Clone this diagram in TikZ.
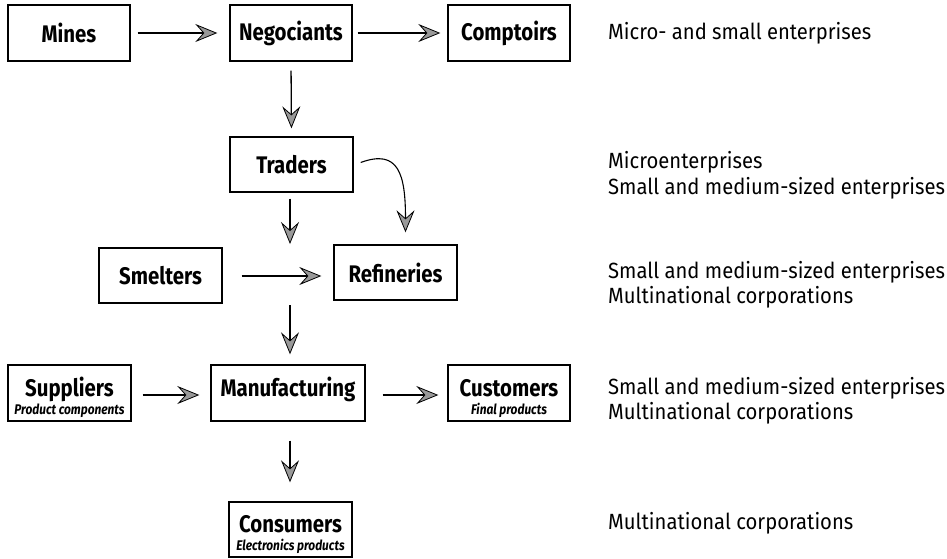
\documentclass[tikz,border=0pt]{standalone}
\usepackage{fontspec}
\setmainfont{Fira Sans}
\newfontfamily\boxfont[FakeStretch=0.85]{Fira Sans}
\newfontfamily\sidefont[FakeStretch=0.92]{Fira Sans}
\usetikzlibrary{arrows.meta}
\newcommand{\sub}[1]{{\fontsize{14}{16}\selectfont\bfseries\itshape #1}}
\newcommand{\toprow}{\rule{0pt}{28pt}}
\begin{document}
\begin{tikzpicture}[x=1pt,y=-1pt]

	%STYLES
	\tikzstyle{every node}=[inner sep=0pt]
	\tikzstyle{block} = [draw, align=center, line width=1.4pt, minimum width=122pt, minimum height=56pt, font=\boxfont\fontsize{24}{19}\selectfont\bfseries]
	\tikzstyle{side} = [anchor=west, align=left, font=\sidefont\fontsize{22}{25.5}\selectfont]
	\tikzstyle{pointer} = [-{Stealth[length=22pt, width=18pt, inset=8pt, fill=gray!80, line width=0.8pt]}, line width=1.3pt]

	\useasboundingbox (0,0) rectangle (947,558);

	%BOXES
	\draw(69,33) node[block](1){Mines};
	\draw(291,33) node[block](2){Negociants};
	\draw(509,33) node[block](3){Comptoirs};
	\draw(291.5,164.5) node[block, minimum width=123pt, minimum height=55pt](4){Traders};
	\draw(160.5,275.5) node[block, minimum width=123pt, minimum height=55pt](5){Smelters};
	\draw(395.5,272.5) node[block, minimum width=123pt, minimum height=55pt](6){Refineries};
	\draw(69.5,393) node[block, minimum width=123pt](7){\toprow Suppliers\\[-1pt]\sub{Product components}};
	\draw(288,393) node[block, minimum width=154pt](8){\toprow Manufacturing\\[-1pt]\sub{\phantom{Final products}}};
	\draw(509,393) node[block](9){\toprow Customers\\[-1pt]\sub{Final products}};
	\draw(290.5,529.5) node[block, minimum width=123pt, minimum height=55pt](10){\toprow Consumers\\[-1pt]\sub{Electronics products}};
	\coordinate (c1) at (290,244);
	\coordinate (c2) at (290,305);

	%ARROWS
	\draw [pointer, shorten <=7pt, shorten >=12pt] (1.east) -- (2.west);
	\draw [pointer, shorten <=5pt, shorten >=7pt] (2.east) -- (3.west);
	\draw [pointer, shorten <=9pt, shorten >=8pt] (2.south) -- (4.north);
	\draw [pointer, shorten <=6pt] (4.south -| c1) -- (c1);
	\draw [pointer, shorten <=19pt, shorten >=12pt] ([yshift=-0.5pt]5.east) -- ([yshift=-3.5pt]6.west);
	\draw [pointer, line width=1.1pt] ([xshift=7pt,yshift=2pt]4.east) .. controls +(38pt,14pt) and +(0pt,58pt) .. ([xshift=10pt,yshift=12pt]6.north);
	\draw [pointer, shorten >=10pt] (c2) -- (c2 |- 8.north);
	\draw [pointer, shorten <=11pt, shorten >=11pt] ([yshift=-2pt]7.east) -- ([yshift=-2pt]8.west);
	\draw [pointer, shorten <=17pt, shorten >=9pt] ([yshift=-2pt]8.east) -- ([yshift=-2pt]9.west);
	\draw [pointer, shorten <=19pt, shorten >=19pt] ([xshift=2pt]8.south) -- ([xshift=2pt]8.south |- 10.north);

	%LABELS
	\draw(608,33) node[side]{Micro- and small enterprises};
	\draw(608,175.5) node[side]{Microenterprises\\Small and medium-sized enterprises};
	\draw(608,285) node[side]{Small and medium-sized enterprises\\Multinational corporations};
	\draw(608,401) node[side]{Small and medium-sized enterprises\\Multinational corporations};
	\draw(608,523) node[side]{Multinational corporations};
\end{tikzpicture}
\end{document}
